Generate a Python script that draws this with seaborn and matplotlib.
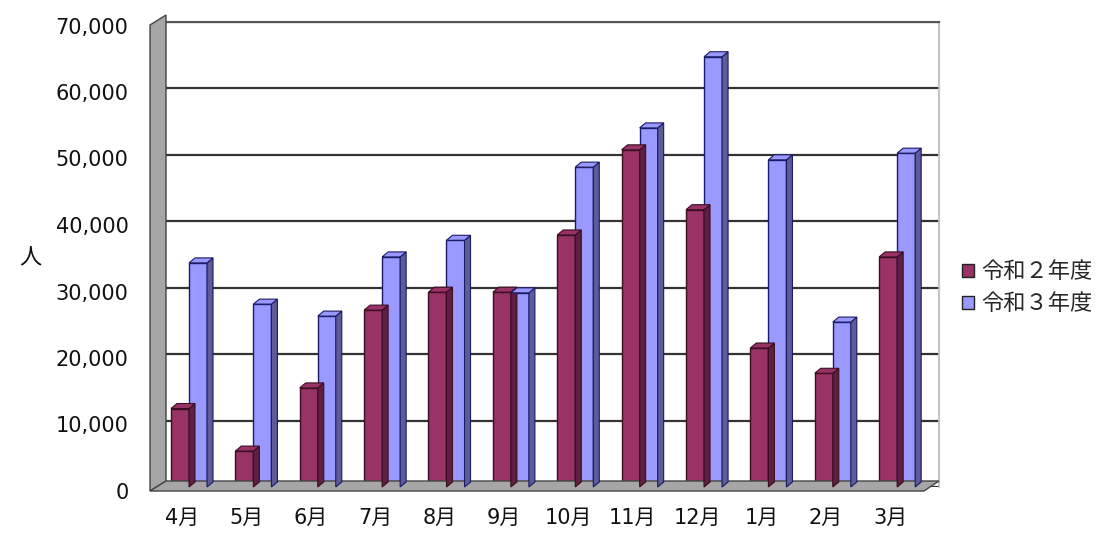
import matplotlib.pyplot as plt
import numpy as np
import pandas as pd
import seaborn as sns
from matplotlib.patches import Patch, Polygon
from matplotlib.ticker import FuncFormatter
from matplotlib.transforms import ScaledTranslation

months = ["4月", "5月", "6月", "7月", "8月", "9月", "10月", "11月", "12月", "1月", "2月", "3月"]
series_names = ["令和２年度", "令和３年度"]
r2_values = [11800, 5400, 14900, 26600, 29300, 29300, 37900, 50700, 41700, 20900, 17100, 34600]
r3_values = [33700, 27500, 25700, 34600, 37100, 29200, 48100, 54000, 64700, 49200, 24800, 50200]
y_ticks = [0, 10000, 20000, 30000, 40000, 50000, 60000, 70000]

face_colors = ["#993366", "#9999ff"]
side_colors = ["#5e1f40", "#5c5c99"]
edge_colors = ["#3a0d22", "#1a1a66"]

df = pd.DataFrame({
    "month": months * 2,
    "year": [series_names[0]] * len(months) + [series_names[1]] * len(months),
    "people": r2_values + r3_values,
})

sns.set_theme(style="white")
plt.rcParams["font.family"] = ["DejaVu Sans", "Noto Sans CJK JP"]

W, H = 1115, 533
fig = plt.figure(figsize=(W / 100, H / 100), dpi=100)
ax = fig.add_axes([166 / W, 1 - 487 / H, (939 - 166) / W, (487 - 21.5) / H])


def px(x, y):
    # pixel position (from top-left) -> figure fraction
    return (x / W, 1 - y / H)


# walls of the 3D frame
wall = Polygon([px(150, 25), px(166, 15), px(166, 481), px(150, 491)],
               closed=True, transform=fig.transFigure, facecolor="#a6a6a6",
               edgecolor="#444444", linewidth=1.0, zorder=0)
floor = Polygon([px(166, 481), px(939, 481), px(924, 491), px(150, 491)],
                closed=True, transform=fig.transFigure, facecolor="#a6a6a6",
                edgecolor="#444444", linewidth=1.0, zorder=0)
fig.patches.extend([wall, floor])

sns.barplot(
    data=df, x="month", y="people", hue="year", order=months,
    hue_order=series_names, palette=face_colors, width=0.56,
    saturation=1, ax=ax, legend=False, zorder=3,
)

ax.set_xlim(-0.357, 11.65)
ax.set_ylim(0, 70000)
ax.set_yticks(y_ticks)
ax.yaxis.set_major_formatter(FuncFormatter(lambda v, _: f"{int(v):,}"))
ax.grid(axis="y", color="#333333", linewidth=1.6)
ax.grid(axis="x", visible=False)
ax.set_axisbelow(True)
ax.set_xlabel("")
ax.set_ylabel("")
for side in ["left", "bottom"]:
    ax.spines[side].set_visible(False)
ax.spines["top"].set_color("#555555")
ax.spines["top"].set_linewidth(1.5)
ax.spines["right"].set_color("#bbbbbb")
ax.tick_params(axis="y", length=0, pad=27, labelsize=15, labelcolor="#111111")
ax.tick_params(axis="x", length=0, pad=15, labelsize=15, labelcolor="#111111")
for lab in ax.get_xticklabels():
    lab.set_transform(lab.get_transform() + ScaledTranslation(-0.07, 0, fig.dpi_scale_trans))
for lab in ax.get_yticklabels():
    lab.set_transform(lab.get_transform() + ScaledTranslation(0, -0.04, fig.dpi_scale_trans))

# 3D-ish side and top faces derived from the drawn bars
fig.canvas.draw()
dx, dy = 6, 5
for k, container in enumerate(ax.containers):
    for bar in container:
        bar.set_edgecolor(edge_colors[k])
        bar.set_linewidth(1.0)
        x0, y0 = bar.get_x(), 0
        x1, y1 = bar.get_x() + bar.get_width(), bar.get_height()
        (X0, Y0), (X1, Y1) = ax.transData.transform([(x0, y0), (x1, y1)])
        side = Polygon([(X1, Y0), (X1, Y1), (X1 + dx, Y1 + dy), (X1 + dx, Y0 + dy)],
                       closed=True, transform=None, facecolor=side_colors[k],
                       edgecolor=edge_colors[k], linewidth=0.8, zorder=2.9)
        top = Polygon([(X0, Y1), (X1, Y1), (X1 + dx, Y1 + dy), (X0 + dx, Y1 + dy)],
                      closed=True, transform=None, facecolor=face_colors[k],
                      edgecolor=edge_colors[k], linewidth=0.8, zorder=3.1)
        fig.patches.extend([side, top])

fig.text(30 / W, 1 - 258 / H, "人", fontsize=16, ha="center", va="center", color="#111111")

handles = [Patch(facecolor=c, edgecolor="#222222", linewidth=1.0) for c in face_colors]
fig.legend(handles, series_names, loc="center left", bbox_to_anchor=(942 / W, 1 - 288 / H),
           frameon=False, fontsize=16, handlelength=0.55, handleheight=0.55,
           handletextpad=0.3, labelspacing=0.5)

fig.savefig("out.png", dpi=100)
